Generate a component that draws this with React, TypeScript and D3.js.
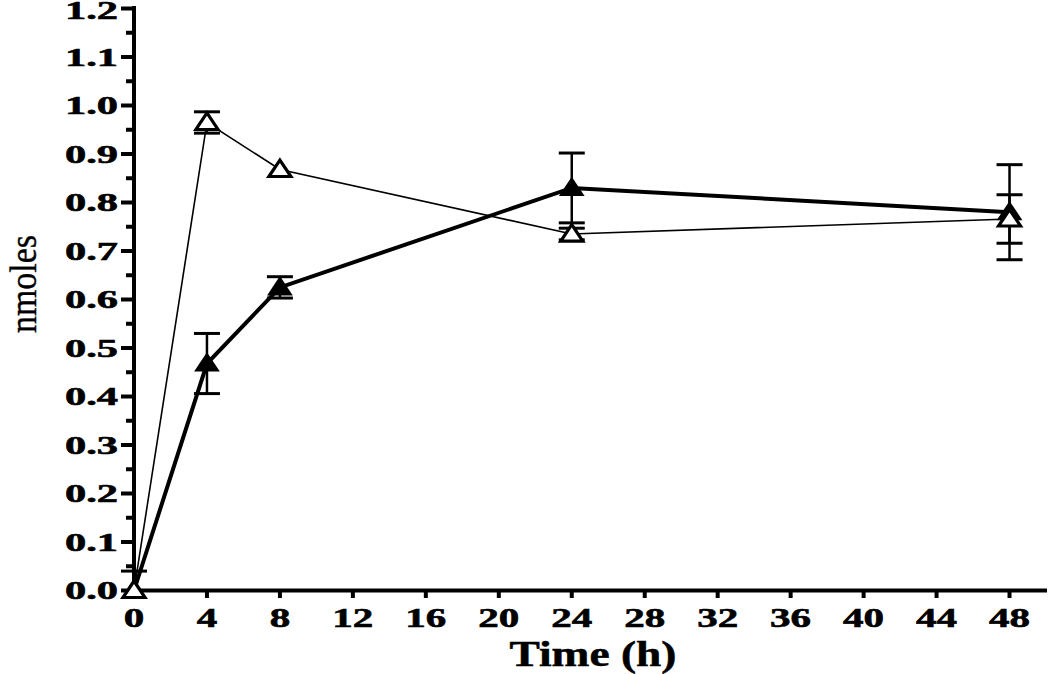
import React from "react";
import * as d3 from "d3";

const times = [0, 4, 8, 24, 48];
const openMean = [0, 0.965, 0.868, 0.735, 0.766];
const openErr = [0, 0.022, 0, 0.012, 0.05];
const filledMean = [0, 0.468, 0.625, 0.83, 0.78];
const filledErr = [0.04, 0.062, 0.022, 0.072, 0.098];
const yTicks = [0, 0.1, 0.2, 0.3, 0.4, 0.5, 0.6, 0.7, 0.8, 0.9, 1.0, 1.1, 1.2];
const yMinor = [0.05, 0.15, 0.25, 0.35, 0.45, 0.55, 0.65, 0.75, 0.85, 0.95, 1.05, 1.15];
const xTicks = [0, 4, 8, 12, 16, 20, 24, 28, 32, 36, 40, 44, 48];

const W = 1050;
const H = 674;
const FONT = "'Liberation Serif', 'Times New Roman', serif";

export default function App() {
  const x = d3.scaleLinear().domain([0, 50]).range([134, 1046]);
  const y = d3.scaleLinear().domain([0, 1.2]).range([590.5, 8.5]);
  const line = d3
    .line<number>()
    .x((_, i) => x(times[i]))
    .y((d) => y(d));

  const tri = (cx: number, cy: number) =>
    `M${cx},${cy - 9.5} L${cx + 11},${cy + 7} L${cx - 11},${cy + 7} Z`;

  const labelLen = (s: string) =>
    s.split("").reduce((a, c) => a + (c === "." ? 12 : 20.5), 0);

  const errBars = (means: number[], errs: number[], key: string) =>
    means.map((m, i) => {
      if (errs[i] <= 0) return null;
      const cx = x(times[i]);
      const y1 = y(m + errs[i]);
      const y2 = y(Math.max(0, m - errs[i]));
      return (
        <g key={key + i} stroke="#000">
          <line x1={cx} x2={cx} y1={y1} y2={y2} strokeWidth={2.5} />
          <line x1={cx - 13} x2={cx + 13} y1={y1} y2={y1} strokeWidth={3} />
          <line x1={cx - 13} x2={cx + 13} y1={y2} y2={y2} strokeWidth={3} />
        </g>
      );
    });

  return (
    <svg width={W} height={H} style={{ display: "block", position: "absolute", left: 0, top: 0 }}>
      <rect width={W} height={H} fill="#fff" />
      {/* axes */}
      <line x1={134} x2={134} y1={6} y2={592.5} stroke="#000" strokeWidth={4} />
      <line x1={132} x2={1047} y1={590.5} y2={590.5} stroke="#000" strokeWidth={4} />
      {yTicks.map((t) => (
        <g key={"yt" + t}>
          <line x1={121} x2={134} y1={y(t)} y2={y(t)} stroke="#000" strokeWidth={4} />
          <text
            x={118}
            y={Math.max(y(t) + 8.5, 19)}
            textAnchor="end"
            fontFamily={FONT}
            fontWeight="bold"
            fontSize={26}
            stroke="#000"
            strokeWidth={0.6}
            textLength={labelLen(t.toFixed(1))}
            lengthAdjust="spacingAndGlyphs"
          >
            {t.toFixed(1)}
          </text>
        </g>
      ))}
      {yMinor.map((t) => (
        <line key={"ym" + t} x1={126} x2={134} y1={y(t)} y2={y(t)} stroke="#000" strokeWidth={4} />
      ))}
      {xTicks.map((t) => (
        <g key={"xt" + t}>
          <line x1={x(t)} x2={x(t)} y1={590} y2={598} stroke="#000" strokeWidth={4} />
          <text
            x={x(t)}
            y={627}
            textAnchor="middle"
            fontFamily={FONT}
            fontWeight="bold"
            fontSize={27}
            stroke="#000"
            strokeWidth={0.6}
            textLength={labelLen(String(t))}
            lengthAdjust="spacingAndGlyphs"
          >
            {t}
          </text>
        </g>
      ))}
      <text
        x={593}
        y={666}
        textAnchor="middle"
        fontFamily={FONT}
        fontWeight="bold"
        fontSize={35}
        stroke="#000"
        strokeWidth={0.5}
        textLength={167}
        lengthAdjust="spacingAndGlyphs"
      >
        Time (h)
      </text>
      <text
        transform="translate(36,284) rotate(-90)"
        textAnchor="middle"
        fontFamily={FONT}
        fontSize={38}
        stroke="#000"
        strokeWidth={0.4}
        textLength={98}
        lengthAdjust="spacingAndGlyphs"
      >
        nmoles
      </text>
      {/* lines */}
      <path d={line(openMean) || ""} fill="none" stroke="#000" strokeWidth={1.6} />
      <path d={line(filledMean) || ""} fill="none" stroke="#000" strokeWidth={4} />
      {errBars(openMean, openErr, "oe")}
      {errBars(filledMean, filledErr, "fe")}
      {filledMean.map((m, i) => (
        <path key={"ft" + i} d={tri(x(times[i]), y(m))} fill="#000" stroke="#000" strokeWidth={2} />
      ))}
      {openMean.map((m, i) => (
        <path
          key={"ot" + i}
          d={tri(x(times[i]), y(m))}
          fill="#fff"
          stroke="#000"
          strokeWidth={3.2}
          strokeLinejoin="miter"
        />
      ))}
    </svg>
  );
}
